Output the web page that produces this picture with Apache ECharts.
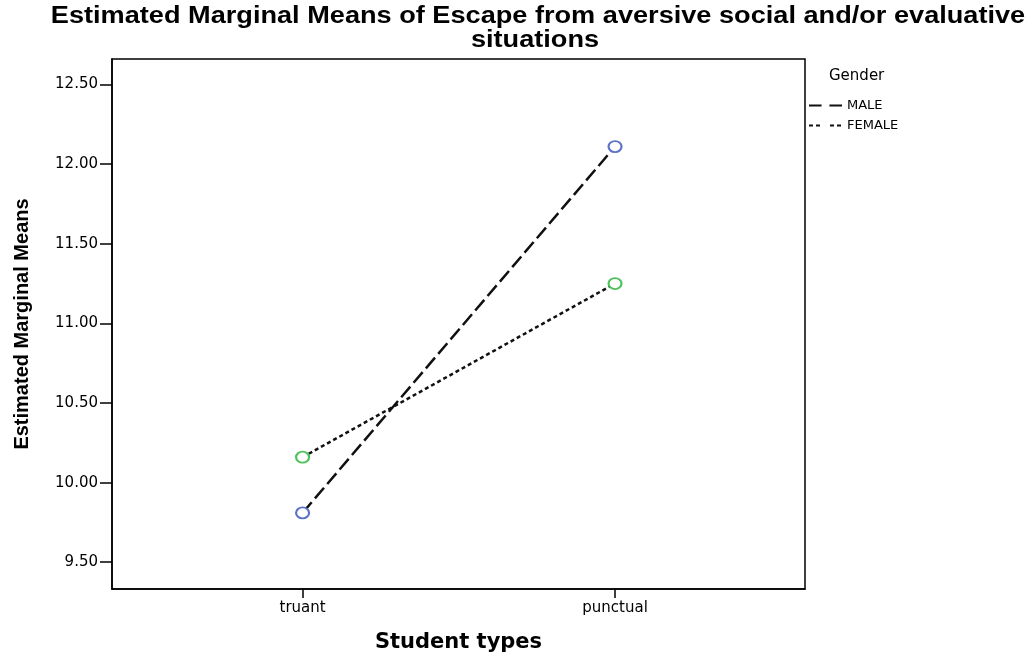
<!DOCTYPE html>
<html><head><meta charset="utf-8">
<script src="https://cdn.jsdelivr.net/npm/echarts@6/dist/echarts.min.js"></script>
<style>html,body{margin:0;padding:0;background:#fff}#c{width:1036px;height:658px}</style>
</head><body><div id="c"></div>
<script>
const categories = ['truant', 'punctual'];
const maleValues = [9.81, 12.11];
const femaleValues = [10.16, 11.25];
const yTicks = [9.5, 10.0, 10.5, 11.0, 11.5, 12.0, 12.5];
const seriesNames = ['MALE', 'FEMALE'];

const chart = echarts.init(document.getElementById('c'));
const toPts = vals => vals.map((v, i) => [i, v]);
chart.setOption({
  animation: false,
  backgroundColor: '#fff',
  graphic: [
    {
      type: 'text', x: 538, y: 17, scaleX: 1.18, originX: 0, originY: 0,
      style: { text: 'Estimated Marginal Means of Escape from aversive social and/or evaluative', align: 'center', verticalAlign: 'middle',
        fontFamily: 'Liberation Sans, Arial', fontSize: 23, fontWeight: 'bold', fill: '#000' }
    },
    {
      type: 'text', x: 535, y: 41, scaleX: 1.18, originX: 0, originY: 0,
      style: { text: 'situations', align: 'center', verticalAlign: 'middle',
        fontFamily: 'Liberation Sans, Arial', fontSize: 23, fontWeight: 'bold', fill: '#000' }
    },
    {
      type: 'text', x: 829, y: 76,
      style: { text: 'Gender', verticalAlign: 'middle', fontFamily: 'DejaVu Sans, Arial', fontSize: 15, fill: '#000' }
    }
  ],
  legend: {
    orient: 'vertical', left: 803, top: 94,
    itemWidth: 33, itemHeight: 10, itemGap: 7,
    data: seriesNames,
    textStyle: { fontFamily: 'DejaVu Sans, Arial', fontSize: 13, color: '#000' },
    itemStyle: { color: 'transparent', borderColor: 'transparent', borderWidth: 0 }
  },
  grid: { left: 112, right: 231, top: 59, bottom: 64, show: true, borderColor: '#000', borderWidth: 1.5, backgroundColor: 'transparent' },
  xAxis: {
    type: 'value', min: -0.61, max: 1.608,
    name: 'Student types', nameLocation: 'middle', nameGap: 43,
    nameTextStyle: { fontFamily: 'DejaVu Sans, Verdana', fontSize: 21, fontWeight: 'bold', color: '#000' },
    splitLine: { show: false },
    axisLine: { show: true, onZero: false, lineStyle: { color: '#000', width: 1.5 } },
    axisTick: { show: true, customValues: [0, 1], length: 9, lineStyle: { color: '#000', width: 1.5 } },
    axisLabel: { customValues: [0, 1], formatter: v => categories[Math.round(v)], fontFamily: 'DejaVu Sans, Arial', fontSize: 15, color: '#000', margin: 12 }
  },
  yAxis: {
    type: 'value', min: 9.332, max: 12.66,
    name: 'Estimated Marginal Means', nameLocation: 'middle', nameGap: 80,
    nameTextStyle: { fontFamily: 'Liberation Sans, Arial', fontSize: 20, fontWeight: 'bold', color: '#000' },
    splitLine: { show: false },
    axisLine: { show: true, onZero: false, lineStyle: { color: '#000', width: 1.5 } },
    axisTick: { show: true, customValues: yTicks, length: 12, lineStyle: { color: '#000', width: 1.5 } },
    axisLabel: { customValues: yTicks, formatter: v => v.toFixed(2), fontFamily: 'DejaVu Sans, Verdana', fontSize: 15, color: '#000', margin: 14 }
  },
  series: [
    {
      name: 'MALE', type: 'line', data: toPts(maleValues),
      symbol: 'emptyCircle', symbolSize: [13, 11], showSymbol: true, z: 3,
      itemStyle: { color: '#5b72c6', borderWidth: 1.8 },
      lineStyle: { color: '#111', width: 2.5, type: [14, 5] }
    },
    {
      name: 'FEMALE', type: 'line', data: toPts(femaleValues),
      symbol: 'emptyCircle', symbolSize: [13, 11], showSymbol: true, z: 3,
      itemStyle: { color: '#4cc259', borderWidth: 1.8 },
      lineStyle: { color: '#111', width: 2.5, type: [4, 3] }
    }
  ]
});
</script></body></html>
